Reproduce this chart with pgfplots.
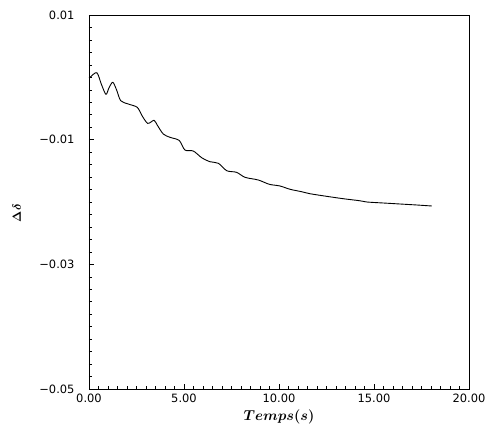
\documentclass[border=0pt]{standalone}
\usepackage{amsmath}
\usepackage{fontspec}
\setmainfont{DejaVu Sans}
\usepackage{pgfplots}
\pgfplotsset{compat=1.18}

\begin{document}
\begin{tikzpicture}
\path[use as bounding box] (-89bp,-52bp) rectangle (407bp,389bp);
\begin{axis}[
  at={(0,0)}, anchor=south west,
  scale only axis,
  width=380bp, height=374bp,
  xmin=0, xmax=20, ymin=-0.05, ymax=0.01,
  scaled ticks=false,
  xtick={0,5,10,15,20},
  xticklabels={0.00,5.00,10.00,15.00,20.00},
  ytick={0.01,-0.01,-0.03,-0.05},
  yticklabels={0.01,−0.01,−0.03,−0.05},
  minor x tick num=9,
  minor y tick num=9,
  tick pos=left,
  tick align=inside,
  major tick length=5bp,
  minor tick length=3bp,
  axis line style={line width=0.9bp},
  every tick/.style={black, line width=0.6bp},
  ticklabel style={font=\fontsize{11.5}{13}\selectfont},
  yticklabel style={xshift=-11bp},
  xticklabel style={yshift=-1bp},
  xlabel={$\boldsymbol{Temps(s)}$},
  xlabel style={font=\fontsize{15}{17}\selectfont, yshift=-1bp},
  ylabel={$\boldsymbol{\Delta\delta}$},
  ylabel style={font=\fontsize{13}{15}\selectfont, at={(axis description cs:-0.17,0.47)}},
]
\addplot[black, line width=0.9bp, smooth, tension=0.5] coordinates {
  (0.00,-0.00005) (0.05,0.0000) (0.41,0.00074) (0.65,-0.0011) (0.89,-0.00272)
  (1.05,-0.0017) (1.25,-0.00080) (1.45,-0.0020) (1.67,-0.00375)
  (2.07,-0.00428) (2.54,-0.00481) (2.77,-0.00604) (3.09,-0.00738)
  (3.42,-0.00689) (3.59,-0.00765) (3.91,-0.00909) (4.26,-0.00962)
  (4.75,-0.01013) (5.05,-0.01166) (5.49,-0.01182) (5.93,-0.01289)
  (6.37,-0.01354) (6.81,-0.01379) (7.25,-0.01498) (7.77,-0.01524)
  (8.21,-0.01604) (8.91,-0.01647) (9.49,-0.01716) (10.05,-0.01743)
  (10.58,-0.01796) (11.19,-0.01835) (11.63,-0.01867) (12.51,-0.01909)
  (13.38,-0.01947) (14.23,-0.01979) (14.62,-0.02000) (15.49,-0.02016)
  (16.37,-0.02032) (17.25,-0.02048) (18.04,-0.02064)
};
\end{axis}
\end{tikzpicture}
\end{document}
